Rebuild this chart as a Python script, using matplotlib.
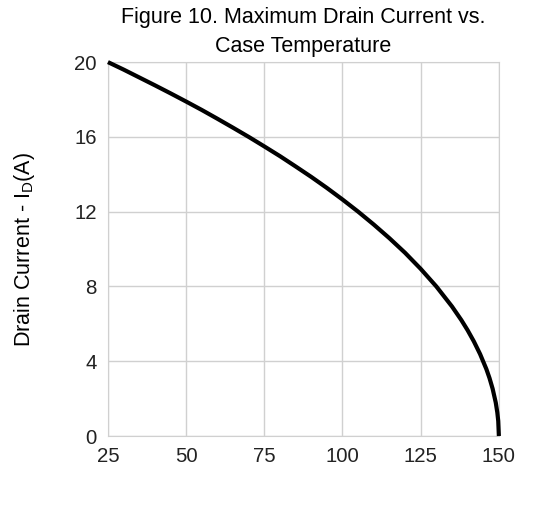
import matplotlib.pyplot as plt

# values
temp = [25, 30, 35, 40, 45, 50, 55, 60, 65, 70, 75, 80, 85, 90, 95, 100, 105,
        110, 115, 120, 125, 130, 135, 138, 140, 142, 144, 146, 147, 148, 149,
        149.5, 149.8, 150]
current = [20.0, 19.6, 19.18, 18.76, 18.33, 17.89, 17.44, 16.97, 16.49, 16.0,
           15.49, 14.97, 14.42, 13.86, 13.27, 12.65, 12.0, 11.31, 10.58, 9.8,
           8.94, 8.0, 6.93, 6.2, 5.66, 5.06, 4.38, 3.58, 3.1, 2.53, 1.79, 1.26,
           0.8, 0.0]
x_ticks = [25, 50, 75, 100, 125, 150]
y_ticks = [0, 4, 8, 12, 16, 20]

plt.rcParams['font.family'] = ['Liberation Sans', 'DejaVu Sans']

fig = plt.figure(figsize=(5.37, 5.09), dpi=100)
ax = fig.add_axes([0.201, 0.1434, 0.728, 0.7346])

ax.plot(temp, current, color='black', linewidth=3, clip_on=False,
        solid_capstyle='butt', solid_joinstyle='round', zorder=3)

ax.set_xlim(25, 150)
ax.set_ylim(0, 20)
ax.set_xticks(x_ticks)
ax.set_yticks(y_ticks)
ax.grid(True, color='#d0d0d0', linewidth=1)
for s in ax.spines.values():
    s.set_color('#d0d0d0')
ax.tick_params(length=0, labelsize=14.7, pad=8, colors='#222222')

ax.set_ylabel('Drain Current - I$_\\mathregular{D}$(A)', fontsize=15.5, labelpad=27)
ax.set_title('Figure 10. Maximum Drain Current vs.\nCase Temperature', fontsize=15.5,
             pad=7, linespacing=1.5)

fig.savefig('out.png', dpi=100)
